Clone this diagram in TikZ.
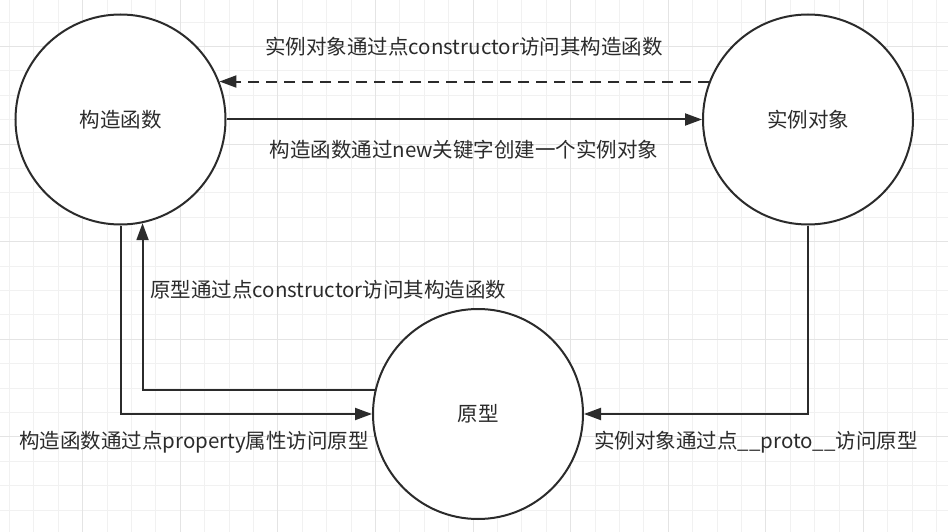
\documentclass[tikz,border=0pt]{standalone}
\usepackage{fontspec}
\setmainfont{Noto Sans CJK SC}
\usetikzlibrary{arrows.meta}

\definecolor{inkgray}{HTML}{2B2B2B}
\definecolor{gridminor}{HTML}{F1F1F1}
\definecolor{gridmajor}{HTML}{E4E4E4}

\begin{document}
\begin{tikzpicture}[x=1pt,y=-1pt]

\tikzset{
    roundbox/.style={
        circle,
        draw=inkgray,
        fill=white,
        line width=2pt,
        minimum size=210pt,
        inner sep=0pt,
        text=inkgray,
        font=\fontsize{20.5}{24}\selectfont
    },
    link/.style={
        draw=inkgray,
        line width=2pt,
        -{Triangle[length=17pt,width=12pt]}
    },
    linktext/.style={
        text=inkgray,
        inner sep=0pt,
        font=\fontsize{20.5}{24}\selectfont
    }
}

\useasboundingbox (0,0) rectangle (948,532);
\fill[white] (0,0) rectangle (948,532);

% grid
\foreach \i in {0,...,38} {
    \draw[gridminor,line width=1pt] (9.5+24.4*\i,0) -- (9.5+24.4*\i,532);
}
\foreach \i in {0,...,21} {
    \draw[gridminor,line width=1pt] (0,22.1+24.4*\i) -- (948,22.1+24.4*\i);
}
\foreach \i in {0,...,8} {
    \draw[gridmajor,line width=1pt] (82.7+97.6*\i,0) -- (82.7+97.6*\i,532);
}
\foreach \i in {0,...,5} {
    \draw[gridmajor,line width=1pt] (0,46.5+97.6*\i) -- (948,46.5+97.6*\i);
}

\node(ctor) [roundbox] at (120.5, 119.5) {构造函数};
\node(inst) [roundbox] at (808, 119.5) {实例对象};
\node(proto) [roundbox] at (478, 414) {原型};

\draw[link,dash pattern=on 11pt off 7pt] (inst.159) -- (ctor.21);
\draw[link] (ctor.east) -- (inst.west);
\draw[link] (ctor.south) |- (proto.west);
\draw[link] (proto.167) -| (ctor.-78);
\draw[link] (inst.south) |- (proto.east);

\node(backtext) [linktext] at (464, 47) {实例对象通过点constructor访问其构造函数};
\node(newtext) [linktext] at (464, 150) {构造函数通过new关键字创建一个实例对象};
\node(uptext) [linktext,anchor=west] at (150, 290) {原型通过点constructor访问其构造函数};
\node(proptext) [linktext] at (194, 442) {构造函数通过点property属性访问原型};
\node(prototext) [linktext] at (756, 442) {实例对象通过点\_\_proto\_\_访问原型};

\end{tikzpicture}
\end{document}
